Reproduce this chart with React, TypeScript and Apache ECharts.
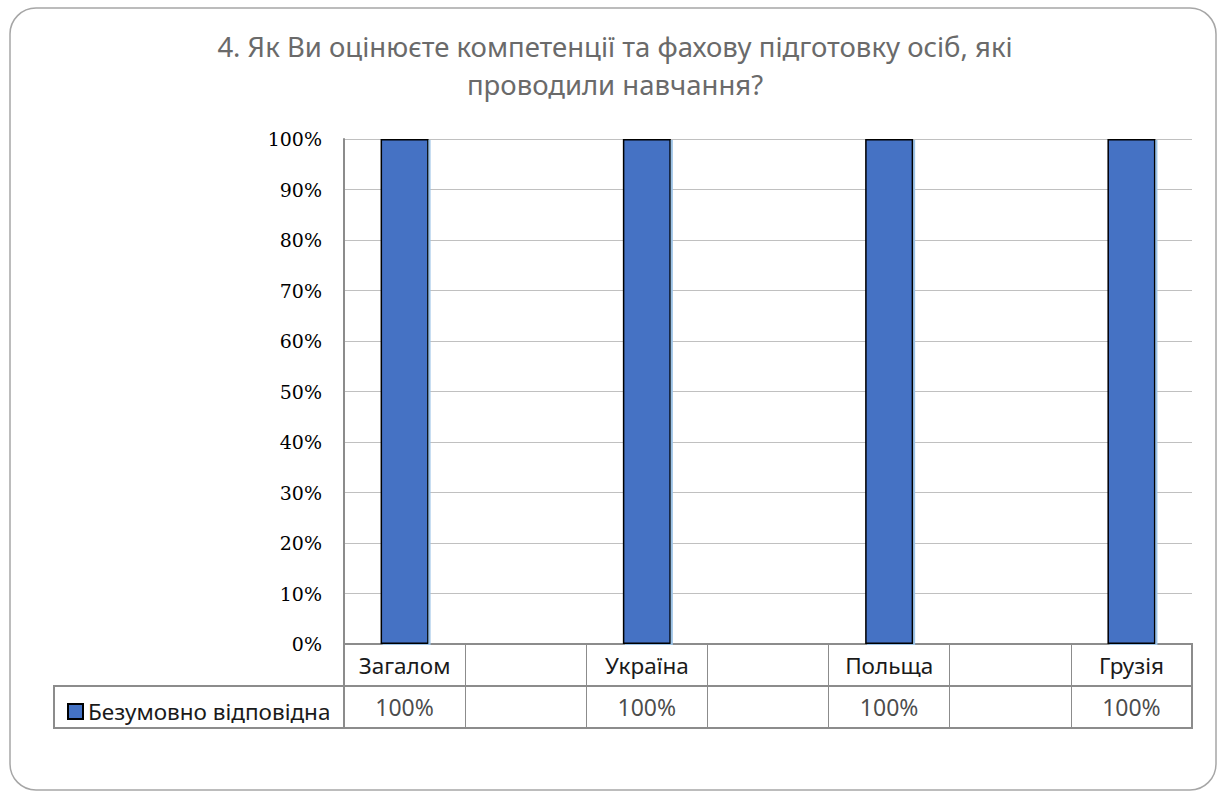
import React, { useEffect, useRef } from "react";
import * as echarts from "echarts";

const categories = ["Загалом", "", "Україна", "", "Польща", "", "Грузія"];
const values: (number | null)[] = [100, null, 100, null, 100, null, 100];
const seriesName = "Безумовно відповідна";
const titleText = "4. Як Ви оцінюєте компетенції та фахову підготовку осіб, які\nпроводили навчання?";

export default function App() {
  const ref = useRef<HTMLDivElement>(null);
  useEffect(() => {
    if (!ref.current) return;
    const chart = echarts.init(ref.current, undefined, { renderer: "svg" });
    const tableData = categories
      .map((c, i) => (values[i] == null ? null : [c, 0.5, values[i]]))
      .filter((d) => d !== null);
    chart.setOption({
      animation: false,
      backgroundColor: "#fff",
      title: {
        text: titleText,
        left: 610,
        top: 22,
        textAlign: "center",
        textStyle: {
          fontFamily: "Noto Sans",
          fontSize: 27.5,
          fontWeight: "normal",
          color: "#6a6a6a",
          lineHeight: 38,
        },
      },
      legend: {
        data: [seriesName],
        left: 62,
        top: 695,
        icon: "rect",
        itemWidth: 15,
        itemHeight: 15,
        itemGap: 6,
        textStyle: { fontFamily: "Noto Sans", fontSize: 22.5, color: "#1a1a1a" },
      },
      grid: [
        { left: 344, top: 139, width: 848, height: 505 },
        {
          left: 344,
          top: 644,
          width: 848,
          height: 84,
          show: true,
          borderColor: "#8c8c8c",
          borderWidth: 2,
        },
      ],
      xAxis: [
        {
          type: "category",
          data: categories,
          gridIndex: 0,
          axisLine: { show: true, lineStyle: { color: "#8c8c8c", width: 2 } },
          axisTick: { show: false },
          axisLabel: {
            interval: 0,
            margin: 10,
            fontFamily: "Noto Sans",
            fontSize: 22.5,
            color: "#1a1a1a",
          },
        },
        {
          type: "category",
          data: categories,
          gridIndex: 1,
          axisLine: { show: false },
          axisTick: { show: false },
          axisLabel: { show: false },
          splitLine: { show: true, interval: 0, lineStyle: { color: "#8c8c8c", width: 1 } },
        },
      ],
      yAxis: [
        {
          type: "value",
          gridIndex: 0,
          min: 0,
          max: 100,
          interval: 10,
          axisLine: { show: true, lineStyle: { color: "#8c8c8c", width: 2 } },
          axisTick: { show: false },
          axisLabel: {
            formatter: "{value}%",
            margin: 22,
            fontFamily: "DejaVu Serif",
            fontSize: 19,
            color: "#000",
          },
          splitLine: { show: true, lineStyle: { color: "#c0c0c0", width: 1 } },
        },
        {
          type: "value",
          gridIndex: 1,
          min: 0,
          max: 2,
          interval: 1,
          axisLine: { show: false },
          axisTick: { show: false },
          axisLabel: { show: false },
          splitLine: { show: true, lineStyle: { color: "#8c8c8c", width: 2 } },
        },
      ],
      series: [
        {
          name: seriesName,
          type: "bar",
          xAxisIndex: 0,
          yAxisIndex: 0,
          data: values,
          barWidth: 48,
          itemStyle: {
            color: "#4472C4",
            borderColor: "#000",
            borderWidth: 1.5,
            shadowColor: "#9dc3e6",
            shadowBlur: 0,
            shadowOffsetX: 2,
            shadowOffsetY: 1,
          },
        },
        {
          name: "table",
          type: "scatter",
          xAxisIndex: 1,
          yAxisIndex: 1,
          symbolSize: 0,
          data: tableData,
          label: {
            show: true,
            position: "inside",
            formatter: (p: any) => p.value[2] + "%",
            fontFamily: "Noto Sans",
            fontSize: 23,
            color: "#1a1a1a",
          },
          silent: true,
        },
      ],
      graphic: [
        {
          type: "rect",
          shape: { x: 54, y: 686, width: 290, height: 42 },
          style: { fill: "none", stroke: "#8c8c8c", lineWidth: 2 },
          silent: true,
        },
        {
          type: "rect",
          shape: { x: 10, y: 8, width: 1206, height: 782, r: 26 },
          style: { fill: "none", stroke: "#a6a6a6", lineWidth: 1.5 },
          silent: true,
        },
      ],
    });
    return () => chart.dispose();
  }, []);
  return (
    <div
      ref={ref}
      style={{ position: "fixed", left: 0, top: 0, width: 1218, height: 793 }}
    />
  );
}
